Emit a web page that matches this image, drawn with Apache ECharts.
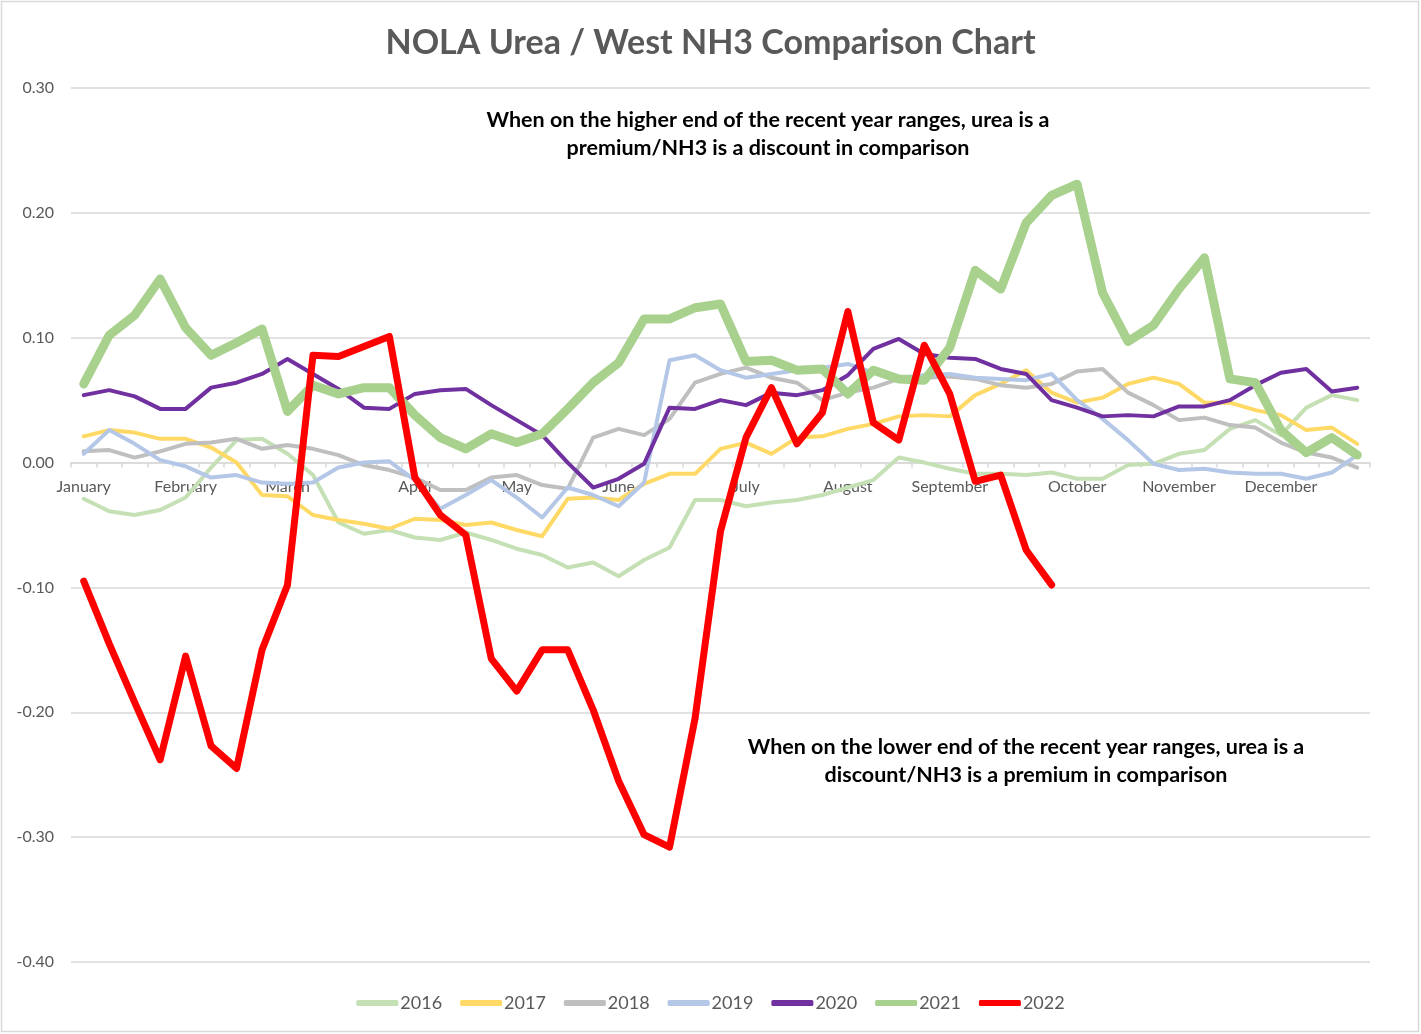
<!DOCTYPE html>
<html>
<head>
<meta charset="utf-8">
<title>NOLA Urea / West NH3 Comparison Chart</title>
<script src="https://cdn.jsdelivr.net/npm/echarts@6/dist/echarts.min.js"></script>
<style>
  html, body { margin: 0; padding: 0; background: #fff; }
  #chart { width: 1421px; height: 1034px; }
</style>
</head>
<body>
<div id="chart"></div>
<script>
'use strict';

// weekly points, month name shown on the first week of each month
var weekCount = 51;
var monthNames = ['January', 'February', 'March', 'April', 'May', 'June',
    'July', 'August', 'September', 'October', 'November', 'December'];
var monthStartWeek = [0, 4, 8, 13, 17, 21, 26, 30, 34, 39, 43, 47];

var yearNames = ['2016', '2017', '2018', '2019', '2020', '2021', '2022'];
var yearColors = ['#c5e0b4', '#ffd966', '#bfbfbf', '#b4c7e7', '#7030a0', '#a9d18e', '#ff0000'];
var yearWidths = [4, 4, 4, 4, 4, 9, 7];

var y2016 = [-0.029, -0.039, -0.042, -0.038, -0.028, -0.004, 0.018, 0.019, 0.007, -0.010,
    -0.048, -0.057, -0.054, -0.060, -0.062, -0.056, -0.062, -0.069, -0.074, -0.084,
    -0.080, -0.091, -0.078, -0.068, -0.030, -0.030, -0.035, -0.032, -0.030, -0.026,
    -0.020, -0.014, 0.004, 0.000, -0.005, -0.009, -0.009, -0.010, -0.008, -0.013,
    -0.013, -0.002, -0.001, 0.007, 0.010, 0.027, 0.034, 0.022, 0.044, 0.054, 0.050];
var y2017 = [0.021, 0.026, 0.024, 0.019, 0.019, 0.012, 0.000, -0.026, -0.027, -0.042,
    -0.046, -0.049, -0.053, -0.045, -0.046, -0.050, -0.048, -0.054, -0.059, -0.029,
    -0.028, -0.030, -0.017, -0.009, -0.009, 0.011, 0.016, 0.007, 0.020, 0.021,
    0.027, 0.031, 0.037, 0.038, 0.037, 0.054, 0.063, 0.074, 0.056, 0.048,
    0.052, 0.063, 0.068, 0.063, 0.048, 0.048, 0.042, 0.038, 0.026, 0.028, 0.015];
var y2018 = [0.009, 0.010, 0.004, 0.009, 0.015, 0.016, 0.019, 0.011, 0.014, 0.011,
    0.006, -0.002, -0.006, -0.012, -0.022, -0.022, -0.012, -0.010, -0.018, -0.021,
    0.020, 0.027, 0.022, 0.035, 0.064, 0.071, 0.076, 0.068, 0.064, 0.050,
    0.056, 0.060, 0.067, 0.068, 0.069, 0.067, 0.062, 0.060, 0.063, 0.073,
    0.075, 0.056, 0.046, 0.034, 0.036, 0.030, 0.028, 0.016, 0.008, 0.004, -0.004];
var y2019 = [0.007, 0.026, 0.015, 0.002, -0.003, -0.012, -0.010, -0.016, -0.017, -0.016,
    -0.004, 0.000, 0.001, -0.014, -0.037, -0.026, -0.014, -0.028, -0.044, -0.020,
    -0.026, -0.035, -0.016, 0.082, 0.086, 0.074, 0.068, 0.071, 0.074, 0.076,
    0.079, 0.072, 0.068, 0.070, 0.071, 0.068, 0.067, 0.066, 0.071, 0.050,
    0.035, 0.018, -0.001, -0.006, -0.005, -0.008, -0.009, -0.009, -0.013, -0.008, 0.006];
var y2020 = [0.054, 0.058, 0.053, 0.043, 0.043, 0.060, 0.064, 0.071, 0.083, 0.071,
    0.059, 0.044, 0.043, 0.055, 0.058, 0.059, 0.046, 0.034, 0.022, 0.000,
    -0.020, -0.013, -0.001, 0.044, 0.043, 0.050, 0.046, 0.056, 0.054, 0.058,
    0.070, 0.091, 0.099, 0.087, 0.084, 0.083, 0.075, 0.071, 0.050, 0.044,
    0.037, 0.038, 0.037, 0.045, 0.045, 0.050, 0.062, 0.072, 0.075, 0.057, 0.060];
var y2021 = [0.063, 0.102, 0.118, 0.147, 0.108, 0.086, 0.096, 0.107, 0.041, 0.062,
    0.055, 0.060, 0.060, 0.038, 0.020, 0.011, 0.023, 0.016, 0.023, 0.043,
    0.064, 0.080, 0.115, 0.115, 0.124, 0.127, 0.081, 0.082, 0.074, 0.075,
    0.055, 0.074, 0.067, 0.066, 0.092, 0.154, 0.139, 0.192, 0.214, 0.223,
    0.136, 0.097, 0.110, 0.139, 0.164, 0.067, 0.064, 0.026, 0.008, 0.020, 0.006];
var y2022 = [-0.095, -0.145, -0.192, -0.238, -0.155, -0.227, -0.245, -0.150, -0.098, 0.086,
    0.085, 0.093, 0.101, -0.012, -0.042, -0.058, -0.157, -0.183, -0.150, -0.150,
    -0.198, -0.255, -0.298, -0.308, -0.205, -0.055, 0.020, 0.060, 0.015, 0.040,
    0.121, 0.032, 0.018, 0.094, 0.055, -0.015, -0.010, -0.070, -0.098];

var yearValues = [y2016, y2017, y2018, y2019, y2020, y2021, y2022];

var noteHigh = 'When on the higher end of the recent year ranges, urea is a\npremium/NH3 is a discount in comparison';
var noteLow = 'When on the lower end of the recent year ranges, urea is a\ndiscount/NH3 is a premium in comparison';

// plot area and value range
var gridTop = 88;
var gridBottom = 962;
var yMin = -0.4;
var yMax = 0.3;
// category axis sits on the zero line
var zeroY = gridTop + (gridBottom - gridTop) * yMax / (yMax - yMin);

var categories = [];
for (var i = 0; i < weekCount; i++) {
    var m = monthStartWeek.indexOf(i);
    categories.push(m >= 0 ? monthNames[m] : '');
}

var series = yearNames.map(function (name, k) {
    return {
        name: name,
        type: 'line',
        data: yearValues[k],
        symbol: 'none',
        smooth: false,
        lineStyle: {
            color: yearColors[k],
            width: yearWidths[k],
            join: 'round',
            cap: 'round'
        },
        itemStyle: { color: yearColors[k] },
        emphasis: { disabled: true }
    };
});

var chart = echarts.init(document.getElementById('chart'));

var option = {
    animation: false,
    backgroundColor: '#ffffff',
    textStyle: { fontFamily: 'Lato' },
    title: {
        text: 'NOLA Urea / West NH3 Comparison Chart',
        left: 'center',
        top: 21,
        textStyle: {
            fontFamily: 'Lato',
            fontSize: 34,
            fontWeight: 'bold',
            color: '#595959'
        }
    },
    grid: {
        left: 71,
        right: 51,
        top: gridTop,
        bottom: 1034 - gridBottom
    },
    legend: {
        bottom: 17,
        left: 'center',
        icon: 'roundRect',
        itemWidth: 42,
        itemHeight: 6,
        itemGap: 18,
        textStyle: {
            fontFamily: 'Lato',
            fontSize: 18,
            color: '#595959',
            padding: [0, 0, 0, -3]
        },
        data: yearNames
    },
    xAxis: {
        type: 'category',
        data: categories,
        boundaryGap: true,
        offset: -(gridBottom - zeroY),
        axisLine: {
            onZero: false,
            lineStyle: { color: '#d9d9d9', width: 1.5 }
        },
        axisTick: {
            show: true,
            interval: 0,
            length: 5,
            lineStyle: { color: '#d9d9d9', width: 1.5 }
        },
        axisLabel: {
            interval: 0,
            margin: 16,
            fontFamily: 'Lato',
            fontSize: 16,
            color: '#595959'
        },
        splitLine: { show: false }
    },
    yAxis: {
        type: 'value',
        min: yMin,
        max: yMax,
        interval: 0.1,
        axisLine: { show: false },
        axisTick: { show: false },
        axisLabel: {
            margin: 17,
            fontFamily: 'Lato',
            fontSize: 16,
            color: '#595959',
            formatter: function (v) {
                if (Math.abs(v) < 1e-9) {
                    return '0.00';
                }
                return v.toFixed(2);
            }
        },
        splitLine: {
            lineStyle: { color: '#d9d9d9', width: 1.5 }
        }
    },
    graphic: [
        {
            type: 'rect',
            silent: true,
            shape: { x: 1.5, y: 1.5, width: 1417, height: 1030 },
            style: { fill: 'none', stroke: '#d9d9d9', lineWidth: 1.5 }
        },
        {
            type: 'text',
            silent: true,
            x: 768,
            y: 134,
            style: {
                text: noteHigh,
                textAlign: 'center',
                textVerticalAlign: 'middle',
                font: 'bold 21.5px Lato',
                lineHeight: 28,
                fill: '#000000'
            }
        },
        {
            type: 'text',
            silent: true,
            x: 1026,
            y: 761,
            style: {
                text: noteLow,
                textAlign: 'center',
                textVerticalAlign: 'middle',
                font: 'bold 21.5px Lato',
                lineHeight: 28,
                fill: '#000000'
            }
        }
    ],
    series: series
};

chart.setOption(option);
</script>
</body>
</html>
